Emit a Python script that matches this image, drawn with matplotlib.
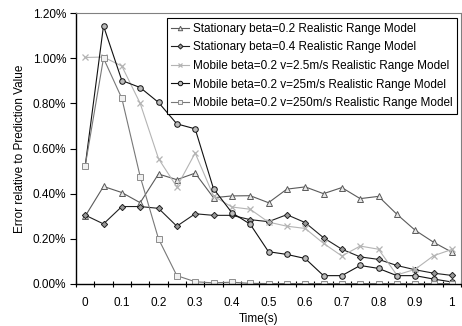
import numpy as np
import matplotlib
matplotlib.use("Agg")
import matplotlib.pyplot as plt
from matplotlib.ticker import FixedLocator, FuncFormatter

plt.rcParams['font.family'] = ['Liberation Sans', 'DejaVu Sans']

# time axis (s), one category every 0.05 s
times = [round(0.05 * k, 2) for k in range(21)]

# error relative to prediction value, in percent
stat02 = [0.30, 0.432, 0.405, 0.36, 0.487, 0.462, 0.491, 0.382, 0.39, 0.391, 0.36,
          0.42, 0.43, 0.40, 0.427, 0.378, 0.388, 0.309, 0.238, 0.185, 0.141]
stat04 = [0.305, 0.266, 0.343, 0.343, 0.335, 0.256, 0.311, 0.304, 0.304, 0.285, 0.276,
          0.307, 0.272, 0.205, 0.154, 0.12, 0.109, 0.082, 0.063, 0.048, 0.038]
mob25 = [1.003, 1.005, 0.965, 0.80, 0.555, 0.43, 0.58, 0.39, 0.341, 0.331, 0.274,
         0.256, 0.246, 0.18, 0.124, 0.168, 0.154, 0.04, 0.065, 0.125, 0.153]
mob250 = [0.522, 1.143, 0.901, 0.87, 0.804, 0.709, 0.687, 0.422, 0.316, 0.265, 0.143,
          0.131, 0.113, 0.037, 0.037, 0.082, 0.069, 0.037, 0.037, 0.022, 0.009]
mob2500 = [0.522, 1.0, 0.822, 0.476, 0.20, 0.037, 0.01, 0.005, 0.008, 0.003, 0.002,
           0.002, 0.002, 0.002, 0.002, 0.002, 0.002, 0.002, 0.002, 0.002, 0.002]

labels = ["Stationary beta=0.2 Realistic Range Model",
          "Stationary beta=0.4 Realistic Range Model",
          "Mobile beta=0.2 v=2.5m/s Realistic Range Model",
          "Mobile beta=0.2 v=25m/s Realistic Range Model",
          "Mobile beta=0.2 v=250m/s Realistic Range Model"]

fig = plt.figure(figsize=(4.62, 3.26), dpi=100)
ax = fig.add_axes([76 / 462, 1 - 284 / 326, 385 / 462, 271 / 326])

lw = 0.8
ms = 4
ax.plot(times, stat02, color='#5a5a5a', lw=lw, marker='^', ms=ms,
        mfc='#e8e8e8', mec='#5a5a5a', mew=0.7, label=labels[0])
ax.plot(times, stat04, color='#202020', lw=lw, marker='D', ms=3.2,
        mfc='#999999', mec='#202020', mew=0.7, label=labels[1])
ax.plot(times, mob25, color='#b4b4b4', lw=lw, marker='x', ms=ms,
        mec='#b4b4b4', mew=0.9, label=labels[2])
ax.plot(times, mob250, color='#101010', lw=lw, marker='o', ms=ms,
        mfc='#bbbbbb', mec='#101010', mew=0.7, label=labels[3])
ax.plot(times, mob2500, color='#787878', lw=lw, marker='s', ms=ms,
        mfc='#f0f0f0', mec='#8c8c8c', mew=0.7, label=labels[4])

ax.set_xlim(-0.025, 1.025)
ax.set_ylim(0, 1.2)

ax.set_xticks([round(0.1 * k, 1) for k in range(11)])
ax.set_xticklabels(['0'] + ['%.1f' % (0.1 * k) for k in range(1, 10)] + ['1'])
ax.xaxis.set_minor_locator(FixedLocator([-0.025 + 0.05 * k for k in range(22)]))
ax.tick_params(axis='x', which='major', length=0, pad=9, labelsize=8.5)
ax.tick_params(axis='x', which='minor', direction='inout', length=5, width=0.8)

ax.set_yticks(np.arange(0, 1.21, 0.2))
ax.yaxis.set_major_formatter(FuncFormatter(lambda v, p: '%.2f%%' % v))
ax.tick_params(axis='y', direction='out', length=4, width=0.8, labelsize=8.5, pad=3)

for side in ['top', 'right']:
    ax.spines[side].set_color('#808080')
    ax.spines[side].set_linewidth(0.8)
ax.spines['left'].set_linewidth(1.0)
ax.spines['bottom'].set_linewidth(1.0)

ax.set_xlabel('Time(s)', fontsize=8.5)
ax.xaxis.set_label_coords(0.473, -0.108)
ax.set_ylabel('Error relative to Prediction Value', fontsize=8.5, labelpad=5)

leg = ax.legend(loc='upper right', bbox_to_anchor=(457 / 462, 1 - 18 / 326),
                bbox_transform=fig.transFigure, fontsize=8.5, frameon=True,
                fancybox=False, edgecolor='black', framealpha=1,
                handlelength=1.5, handletextpad=0.3, labelspacing=0.56,
                borderpad=0.4, borderaxespad=0, markerscale=0.8)
leg.get_frame().set_linewidth(0.8)

fig.savefig('out.png', dpi=100)
